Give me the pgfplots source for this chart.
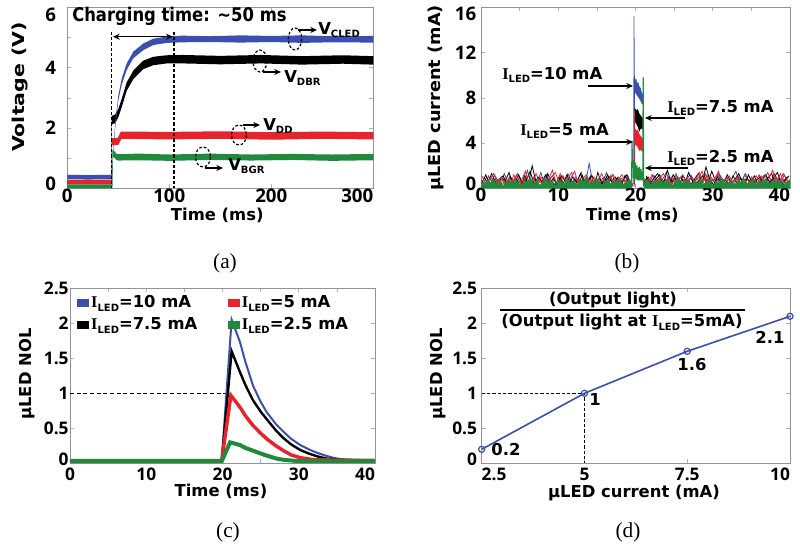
\documentclass[border=0pt]{standalone}
\usepackage{fontspec}
\setmainfont{DejaVu Sans}
\newfontfamily\serif{Liberation Serif}
\newfontfamily\osans{Open Sans}
\usepackage{graphicx}
\usepackage{pgfplots}
\pgfplotsset{compat=1.18}
\usetikzlibrary{arrows.meta}
\definecolor{cblue}{HTML}{3A4FB0}
\definecolor{cred}{HTML}{E8232B}
\definecolor{cgreen}{HTML}{1F8A3B}
\newcommand\fs{\fontsize{12.3}{14}\selectfont\bfseries}
\newcommand\ftt{\osans\fontsize{14}{15}\selectfont\bfseries}
\newcommand\ftb{\osans\fontsize{13}{15}\selectfont\bfseries}
\newcommand\sub[1]{\raisebox{-0.4ex}{\fontsize{7.5}{8}\selectfont\bfseries #1}}
\newcommand\ILED{{\serif\bfseries I}\sub{LED}}
\pgfplotsset{panel/.style={scale only axis, anchor=south west,
  axis line style={draw=gray!85}, tick style={draw=gray!60, line width=0.4pt},
  major tick length=3pt, label style={font=\fs},
  ylabel style={anchor=center}, xlabel style={anchor=center},
  /pgf/number format/assume math mode=true}}
\begin{document}
\begin{tikzpicture}
\useasboundingbox (0,0) rectangle (600pt,413.25pt);
% (a)
\begin{axis}[panel, at={(50.475pt,272.025pt)}, width=229.5pt, height=135.75pt,
  tick label style={font=\ftt}, xticklabel style={yshift=3pt}, yticklabel style={xshift=-5pt},
  xmin=0, xmax=300, ymin=0, ymax=6,
  xtick={0,100,200,300}, xticklabels={0,100,200,\makebox[0pt][r]{300}},
  ytick={0,1,2,3,4,5,6}, yticklabels={\raisebox{3pt}[0.7em][0pt]{0},,2,,4,,\raisebox{-6pt}[0.7em][0pt]{6}},
  xlabel={Time (ms)}, ylabel={\scalebox{1.25}[1]{Voltage (V)}},
  xlabel style={at={(axis description cs:0.49,-0.148)}},
  ylabel style={at={(axis description cs:-0.155,0.56)}}]
\addplot[fill=black, draw=none] coordinates {(0,0.25)(43.4,0.25)(43.5,2.40)(46.8,2.44)(50,2.63)(53.3,2.96)(58.2,3.51)(64.7,3.90)(74.5,4.23)(84.3,4.36)(97.5,4.41)(113,4.42)(150,4.39)(190,4.42)(230,4.38)(270,4.41)(300,4.38)
 (300,4.10)(270,4.13)(230,4.10)(190,4.14)(150,4.11)(113,4.14)(97.5,4.14)(84.3,4.08)(74.5,3.95)(64.7,3.62)(58.2,3.23)(53.3,2.68)(50,2.35)(46.8,2.16)(43.8,2.12)(43.7,0.15)(0,0.15)};
\addplot[fill=cblue, draw=none] coordinates {(0,0.45)(20,0.44)(43.4,0.45)(43.6,0.5)(45,1.3)(46.8,2.08)(50,3.07)(53.3,3.63)(58.2,4.14)(64.7,4.53)(74.5,4.80)(84.3,4.96)(97.5,5.03)(113,5.06)(140,5.04)(170,5.07)(200,5.05)(230,5.07)(260,5.04)(300,5.05)
 (300,4.83)(260,4.84)(230,4.82)(200,4.85)(170,4.83)(140,4.85)(113,4.84)(97.5,4.82)(84.3,4.75)(74.5,4.58)(64.7,4.31)(58.2,3.92)(53.3,3.43)(50,2.90)(46.8,1.94)(45,1.15)(44,0.38)(43.6,0.30)(20,0.29)(0,0.30)};
\addplot[fill=cred, draw=none] coordinates {(0,0.28)(43.4,0.28)(43.6,1.66)(49.5,1.67)(52.5,1.88)(100,1.87)(150,1.89)(200,1.86)(250,1.88)(300,1.86)
 (300,1.62)(250,1.64)(200,1.61)(150,1.64)(100,1.62)(53,1.64)(50,1.43)(43.8,1.43)(43.7,0.13)(0,0.13)};
\addplot[fill=cgreen, draw=none] coordinates {(0,0.13)(43.9,0.13)(44.2,1.27)(46,1.24)(48,1.15)(50,1.13)(70,1.15)(100,1.12)(140,1.15)(180,1.12)(220,1.14)(260,1.12)(300,1.14)
 (300,0.93)(260,0.91)(220,0.94)(180,0.92)(140,0.94)(100,0.91)(70,0.93)(50,0.92)(48,0.94)(46,1.02)(44.5,1.04)(44.3,0)(0,0)};
\end{axis}
% (b)
\begin{axis}[panel, at={(360.75pt,272.025pt)}, width=231.75pt, height=135.75pt,
  tick label style={font=\ftt}, xticklabel style={yshift=4pt},
  xmin=0, xmax=40, ymin=0, ymax=16,
  xtick={0,5,...,40}, xticklabels={0,,10,,20,,30,,\makebox[0pt][r]{40}},
  ytick={0,4,8,12,16}, yticklabels={\raisebox{3pt}[0.7em][0pt]{0},4,8,12,\raisebox{-5pt}[0.7em][0pt]{16}},
  xlabel={Time (ms)}, ylabel={\scalebox{1.08}[1]{µLED current (mA)}},
  xlabel style={at={(axis description cs:0.49,-0.15)}},
  ylabel style={at={(axis description cs:-0.145,0.5)}},
  every axis plot/.append style={line width=0.6pt}]
\addplot[cblue] coordinates {(0,0.8)(0.5,0.2)(1,1.1)(1.5,0.4)(2,0.9)(2.5,0.1)(3,1.3)(3.5,0.5)(4,0.7)(4.5,0.2)(5,1.0)(5.5,0.3)(6,1.6)(6.5,0.4)(7,0.9)(7.5,0.1)(8,0.6)(8.5,1.2)(9,0.3)(9.5,0.8)(10,0.2)(10.5,1.1)(11,0.5)(11.5,0.9)(12,0.1)(12.5,0.7)(13,1.4)(13.5,0.3)(14,2.2)(14.5,0.4)(15,0.8)(15.5,0.2)(16,1.0)(16.5,0.5)(17,1.2)(17.5,0.1)(18,0.7)(18.5,0.3)(19,0.9)(19.5,0.4)(19.78,0.4)(19.8,15.2)(19.86,9.0)(19.9,0.3)};
\addplot[cblue] coordinates {(21,0.3)(21.5,0.9)(22,0.3)(22.5,1.1)(23,0.5)(23.5,0.8)(24,1.4)(24.5,0.2)(25,0.7)(25.5,1.0)(26,0.3)(26.5,0.6)(27,1.2)(27.5,0.4)(28,0.9)(28.5,0.1)(29,1.3)(29.5,0.5)(30,0.8)(30.5,0.2)(31,1.1)(31.5,0.6)(32,0.3)(32.5,0.9)(33,1.5)(33.5,0.4)(34,0.7)(34.5,0.2)(35,1.0)(35.5,0.5)(36,1.2)(36.5,0.3)(37,0.8)(37.5,0.6)(38,1.3)(38.5,0.2)(39,0.9)(39.5,0.4)(40,0.7)};
\addplot[cblue] coordinates {(0.25,0.4)(0.75,1.0)(1.25,0.3)(1.75,1.2)(2.25,0.5)(2.75,0.8)(3.25,0.2)(3.75,1.1)(4.25,0.6)(4.75,1.3)(5.25,0.4)(5.75,0.9)(6.25,0.2)(6.75,1.0)(7.25,0.5)(7.75,1.4)(8.25,0.3)(8.75,0.7)(9.25,1.1)(9.75,0.4)(10.25,0.9)(10.75,0.2)(11.25,1.3)(11.75,0.5)(12.25,1.0)(12.75,0.3)(13.25,0.8)(13.75,0.6)(14.25,1.2)(14.75,0.2)(15.25,0.9)(15.75,0.5)(16.25,1.4)(16.75,0.3)(17.25,0.7)(17.75,1.0)(18.25,0.4)(18.75,1.1)(19.25,0.3)};
\addplot[cblue] coordinates {(21.25,0.8)(21.75,0.3)(22.25,1.2)(22.75,0.5)(23.25,0.9)(23.75,0.2)(24.25,1.0)(24.75,0.6)(25.25,1.3)(25.75,0.4)(26.25,0.8)(26.75,0.2)(27.25,1.1)(27.75,0.5)(28.25,0.7)(28.75,1.2)(29.25,0.3)(29.75,0.9)(30.25,0.5)(30.75,1.4)(31.25,0.2)(31.75,1.0)(32.25,0.6)(32.75,0.3)(33.25,1.1)(33.75,0.7)(34.25,1.3)(34.75,0.4)(35.25,0.8)(35.75,0.2)(36.25,0.9)(36.75,1.2)(37.25,0.4)(37.75,0.7)(38.25,1.0)(38.75,0.3)(39.25,1.2)(39.75,0.5)};
\addplot[fill=cblue, draw=none] coordinates {(19.84,9.8)(20.0,9.6)(20.1,9.7)(20.2,9.3)(20.35,9.4)(20.5,9.0)(20.65,8.9)(20.8,8.5)(20.95,8.3)(20.95,7.4)(20.8,7.5)(20.6,7.8)(20.4,8.0)(20.2,8.2)(20.0,8.4)(19.84,8.6)};
\addplot[black] coordinates {(0.125,0.5)(0.625,1.2)(1.125,0.3)(1.625,0.9)(2.125,0.2)(2.625,1.0)(3.125,0.6)(3.625,1.4)(4.125,0.3)(4.625,0.8)(5.125,0.1)(5.625,1.1)(6.125,0.4)(6.625,2.0)(7.125,0.5)(7.625,0.9)(8.125,0.2)(8.625,1.3)(9.125,0.6)(9.625,0.3)(10.125,1.0)(10.625,0.4)(11.125,1.2)(11.625,0.2)(12.125,0.8)(12.625,0.5)(13.125,1.1)(13.625,0.3)(14.125,0.9)(14.625,0.1)(15.125,1.4)(15.625,0.4)(16.125,0.7)(16.625,1.0)(17.125,0.3)(17.625,0.9)(18.125,0.2)(18.625,1.1)(19.125,0.5)(19.625,0.3)};
\addplot[black] coordinates {(21.125,0.6)(21.625,1.0)(22.125,0.3)(22.625,0.8)(23.125,1.2)(23.625,0.4)(24.125,1.6)(24.625,0.5)(25.125,0.9)(25.625,0.2)(26.125,1.1)(26.625,0.6)(27.125,0.3)(27.625,0.8)(28.125,1.3)(28.625,0.5)(29.125,1.9)(29.625,0.7)(30.125,0.3)(30.625,1.0)(31.125,0.4)(31.625,0.8)(32.125,0.2)(32.625,1.1)(33.125,0.5)(33.625,0.9)(34.125,0.3)(34.625,1.2)(35.125,0.4)(35.625,0.7)(36.125,1.0)(36.625,0.2)(37.125,0.9)(37.625,1.3)(38.125,0.4)(38.625,0.8)(39.125,0.3)(39.625,1.0)};
\addplot[black] coordinates {(0.375,1.0)(0.875,0.4)(1.375,1.3)(1.875,0.5)(2.375,0.8)(2.875,1.1)(3.375,0.3)(3.875,0.9)(4.375,0.5)(4.875,1.2)(5.375,0.4)(5.875,0.8)(6.375,1.5)(6.875,0.3)(7.375,1.0)(7.875,0.6)(8.375,1.2)(8.875,0.4)(9.375,0.9)(9.875,0.2)(10.375,1.1)(10.875,0.7)(11.375,0.3)(11.875,1.0)(12.375,0.5)(12.875,1.3)(13.375,0.4)(13.875,0.8)(14.375,1.1)(14.875,0.5)(15.375,0.9)(15.875,0.3)(16.375,1.2)(16.875,0.6)(17.375,1.0)(17.875,0.4)(18.375,0.8)(18.875,1.2)(19.375,0.5)};
\addplot[black] coordinates {(21.375,1.1)(21.875,0.4)(22.375,0.9)(22.875,1.3)(23.375,0.5)(23.875,0.8)(24.375,0.3)(24.875,1.2)(25.375,0.6)(25.875,1.0)(26.375,0.4)(26.875,1.4)(27.375,0.7)(27.875,0.3)(28.375,0.9)(28.875,1.1)(29.375,0.5)(29.875,1.5)(30.375,0.6)(30.875,0.9)(31.375,0.3)(31.875,1.2)(32.375,0.5)(32.875,0.8)(33.375,1.3)(33.875,0.4)(34.375,0.9)(34.875,0.6)(35.375,1.1)(35.875,0.3)(36.375,0.8)(36.875,1.2)(37.375,0.5)(37.875,0.9)(38.375,1.4)(38.875,0.4)(39.375,0.8)(39.875,1.1)};
\addplot[fill=black, draw=none] coordinates {(19.9,7.1)(20.1,6.9)(20.3,7.0)(20.5,6.6)(20.7,6.4)(20.95,6.2)(20.95,5.2)(20.7,5.3)(20.5,5.0)(20.3,5.4)(20.1,5.7)(19.9,5.9)};
\addplot[cred] coordinates {(0.25,0.6)(0.75,0.2)(1.25,1.0)(1.75,0.4)(2.25,0.8)(2.75,0.3)(3.25,0.9)(3.75,0.1)(4.25,1.2)(4.75,0.4)(5.25,0.7)(5.75,1.5)(6.25,0.3)(6.75,0.9)(7.25,0.2)(7.75,1.0)(8.25,0.5)(8.75,0.8)(9.25,1.6)(9.75,0.4)(10.25,1.3)(10.75,0.2)(11.25,0.9)(11.75,1.4)(12.25,0.3)(12.75,0.8)(13.25,0.1)(13.75,1.0)(14.25,0.5)(14.75,0.7)(15.25,0.2)(15.75,0.9)(16.25,0.4)(16.75,1.1)(17.25,0.3)(17.75,0.8)(18.25,1.2)(18.75,0.4)(19.25,0.7)(19.6,0.2)(19.83,0.2)(19.86,6.8)(19.9,5.0)};
\addplot[cred] coordinates {(21.25,0.5)(21.75,0.9)(22.25,0.2)(22.75,0.7)(23.25,1.0)(23.75,0.3)(24.25,0.8)(24.75,0.4)(25.25,1.1)(25.75,0.2)(26.25,0.6)(26.75,0.9)(27.25,0.3)(27.75,0.7)(28.25,1.4)(28.75,0.5)(29.25,1.2)(29.75,0.3)(30.25,0.8)(30.75,1.5)(31.25,0.4)(31.75,0.9)(32.25,0.2)(32.75,0.7)(33.25,1.0)(33.75,0.3)(34.25,0.6)(34.75,0.2)(35.25,0.9)(35.75,0.4)(36.25,1.1)(36.75,0.5)(37.25,0.8)(37.75,1.6)(38.25,0.4)(38.75,1.3)(39.25,0.5)(39.75,0.9)};
\addplot[cred] coordinates {(0.125,1.1)(0.625,0.4)(1.125,0.8)(1.625,1.3)(2.125,0.5)(2.625,1.0)(3.125,0.3)(3.625,0.9)(4.125,0.6)(4.625,1.2)(5.125,0.4)(5.625,0.8)(6.125,1.1)(6.625,0.3)(7.125,1.3)(7.625,0.5)(8.125,0.9)(8.625,0.4)(9.125,1.0)(9.625,1.4)(10.125,0.5)(10.625,1.1)(11.125,0.4)(11.625,0.9)(12.125,1.5)(12.625,0.3)(13.125,0.8)(13.625,1.2)(14.125,0.4)(14.625,1.0)(15.125,0.6)(15.625,1.3)(16.125,0.5)(16.625,0.8)(17.125,1.2)(17.625,0.4)(18.125,0.9)(18.625,0.6)(19.125,1.1)};
\addplot[cred] coordinates {(21.125,0.9)(21.625,0.4)(22.125,1.2)(22.625,0.6)(23.125,0.9)(23.625,1.3)(24.125,0.4)(24.625,1.0)(25.125,0.5)(25.625,0.8)(26.125,1.2)(26.625,0.4)(27.125,1.0)(27.625,0.6)(28.125,0.9)(28.625,1.5)(29.125,0.5)(29.625,1.1)(30.125,0.7)(30.625,1.3)(31.125,0.4)(31.625,0.8)(32.125,1.1)(32.625,0.5)(33.125,0.9)(33.625,0.3)(34.125,1.2)(34.625,0.6)(35.125,0.8)(35.625,1.1)(36.125,0.4)(36.625,0.9)(37.125,1.4)(37.625,0.5)(38.125,1.0)(38.625,0.6)(39.125,1.3)(39.625,0.7)};
\addplot[fill=cred, draw=none] coordinates {(19.88,5.4)(20.1,5.1)(20.3,5.2)(20.5,4.8)(20.7,4.6)(20.95,4.4)(20.95,3.2)(20.7,3.4)(20.5,3.3)(20.3,3.6)(20.1,3.8)(19.88,3.9)};
\addplot[fill=cgreen, draw=none] coordinates {(0,0)(0,0.6)(0.4,0.3)(0.8,0.8)(1.2,0.5)(1.6,0.9)(2.0,0.4)(2.4,0.7)(2.8,0.2)(3.2,0.6)(3.6,0.8)(4.0,0.4)(4.4,0.9)(4.8,0.5)(5.2,0.3)(5.6,0.7)(6.0,0.6)(6.4,1.0)(6.8,0.4)(7.2,0.8)(7.6,0.3)(8.0,0.6)(8.4,0.9)(8.8,0.5)(9.2,0.7)(9.6,0.2)(10.0,0.8)(10.4,0.6)(10.8,0.4)(11.2,0.9)(11.6,0.5)(12.0,0.7)(12.4,0.3)(12.8,0.8)(13.2,0.6)(13.6,1.1)(14.0,0.4)(14.4,0.7)(14.8,0.5)(15.2,0.9)(15.6,0.3)(16.0,0.6)(16.4,0.8)(16.8,0.4)(17.2,0.7)(17.6,0.5)(18.0,0.9)(18.4,0.3)(18.8,0.6)(19.2,0.8)(19.5,0.5)(19.5,0)};
\addplot[fill=cgreen, draw=none] coordinates {(21.05,0)(21.05,0.4)(21.2,0.5)(21.6,0.8)(22.0,0.3)(22.4,0.7)(22.8,0.6)(23.2,0.9)(23.6,0.4)(24.0,0.8)(24.4,0.5)(24.8,0.3)(25.2,0.7)(25.6,1.0)(26.0,0.4)(26.4,0.6)(26.8,0.8)(27.2,0.3)(27.6,0.7)(28.0,0.5)(28.4,0.9)(28.8,0.4)(29.2,0.6)(29.6,0.8)(30.0,0.2)(30.4,0.7)(30.8,0.5)(31.2,0.9)(31.6,0.6)(32.0,0.4)(32.4,0.8)(32.8,0.3)(33.2,0.7)(33.6,0.5)(34.0,1.0)(34.4,0.4)(34.8,0.6)(35.2,0.8)(35.6,0.3)(36.0,0.7)(36.4,0.5)(36.8,0.9)(37.2,0.4)(37.6,0.6)(38.0,0.8)(38.4,0.5)(38.8,0.7)(39.2,0.3)(39.6,0.6)(40,0.8)(40,0)};
\addplot[cgreen, line width=0.9pt] coordinates {(19.5,0.1)(19.55,4.2)(19.6,2.0)(19.7,2.5)(19.75,0.9)(19.8,2.4)(19.85,1.0)(19.9,2.2)(19.95,0.8)(20.0,2.3)(20.05,0.9)(20.1,1.9)(20.15,0.8)(20.2,2.0)(20.25,0.7)(20.3,1.8)(20.35,0.9)(20.4,1.7)(20.45,0.7)(20.5,1.9)(20.55,0.8)(20.6,1.6)(20.65,0.7)(20.7,1.7)(20.75,0.8)(20.8,1.5)(20.85,0.7)(20.9,1.4)(20.95,0.8)(21.0,9.8)(21.05,0.2)};
\end{axis}
% (c)
\begin{axis}[panel, at={(52.5pt,65.775pt)}, width=228.75pt, height=131.25pt,
  tick label style={font=\ftb}, yticklabel style={xshift=2.5pt},
  xmin=0, xmax=40, ymin=0, ymax=2.5,
  xtick={0,5,...,40}, xticklabels={0,,10,,20,,30,,\makebox[0pt][r]{40}},
  ytick={0,0.5,1,1.5,2,2.5}, yticklabels={\raisebox{3pt}[0.7em][0pt]{0},0.5,1,1.5,2,2.5},
  xlabel={Time (ms)}, ylabel={µLED NOL},
  xlabel style={at={(axis description cs:0.495,-0.16)}},
  ylabel style={at={(axis description cs:-0.142,0.51)}},
  legend columns=2, legend cell align=left,
  legend style={at={(rel axis cs:0.01,0.99)}, anchor=north west, draw=none, fill=none, font=\fs,
    /tikz/every even column/.append style={column sep=21pt}, row sep=2pt}]
\addplot[black, dashed, dash pattern=on 3pt off 2pt, line width=0.9pt, forget plot] coordinates {(0,1)(21.1,1)};
\addplot[cblue, line width=1.5pt, forget plot] coordinates {(0,0.04)(19.9,0.04)(21.2,2.05)(22.3,1.73)(23,1.45)(24,1.11)(25,0.88)(25.8,0.73)(27,0.56)(28,0.45)(29,0.35)(30.2,0.26)(31.3,0.2)(32.4,0.15)(33.5,0.11)(34.5,0.08)(36,0.05)(38,0.04)(40,0.04)};
\addplot[black, line width=1.8pt, forget plot] coordinates {(0,0.04)(19.9,0.04)(21.2,1.6)(22.3,1.3)(23,1.12)(24,0.9)(25,0.74)(25.8,0.63)(27,0.47)(28,0.36)(29,0.27)(30.2,0.19)(31.3,0.14)(32.4,0.1)(33.5,0.07)(35,0.05)(40,0.04)};
\addplot[cred, line width=2.6pt, forget plot] coordinates {(0,0.04)(19.9,0.04)(21.1,0.97)(22.3,0.8)(23,0.68)(24,0.54)(25,0.43)(25.8,0.35)(27,0.25)(28,0.18)(29,0.12)(30.2,0.08)(32,0.05)(40,0.04)};
\addplot[cgreen, line width=3pt, forget plot] coordinates {(0,0.03)(19.9,0.03)(21,0.3)(22.3,0.26)(23,0.22)(24,0.18)(25,0.14)(25.8,0.11)(27,0.07)(28,0.05)(30,0.03)(40,0.03)};
\addlegendimage{legend image code/.code={\fill[cblue] (0pt,-2.5pt) rectangle (8pt,2.5pt);}}
\addlegendentry{\ILED=10 mA}
\addlegendimage{legend image code/.code={\fill[cred] (0pt,-2.5pt) rectangle (8pt,2.5pt);}}
\addlegendentry{\ILED=5 mA}
\addlegendimage{legend image code/.code={\fill[black] (0pt,-2.5pt) rectangle (8pt,2.5pt);}}
\addlegendentry{\ILED=7.5 mA}
\addlegendimage{legend image code/.code={\fill[cgreen] (0pt,-2.5pt) rectangle (8pt,2.5pt);}}
\addlegendentry{\ILED=2.5 mA}
\end{axis}
% (d)
\begin{axis}[panel, at={(361.275pt,65.775pt)}, width=231.225pt, height=131.25pt,
  tick label style={font=\ftb},
  xmin=2.5, xmax=10, ymin=0, ymax=2.5, clip=false,
  xtick={2.5,5,7.5,10}, xticklabels={\makebox[0pt][l]{2.5},5,7.5,\makebox[0pt][r]{10}},
  ytick={0,0.5,1,1.5,2,2.5}, yticklabels={\raisebox{3pt}[0.7em][0pt]{0},0.5,1,1.5,2,2.5},
  xlabel={µLED current (mA)}, ylabel={µLED NOL},
  xlabel style={at={(axis description cs:0.494,-0.172)}},
  ylabel style={at={(axis description cs:-0.142,0.51)}}]
\addplot[black, dashed, dash pattern=on 2.5pt off 1.5pt, line width=0.8pt] coordinates {(2.5,1)(5,1)(5,0)};
\addplot[cblue, line width=1.2pt, mark=o, mark size=2.3pt, mark options={fill=white, line width=0.9pt}] coordinates {(2.5,0.2)(5,1)(7.5,1.6)(10,2.1)};
\end{axis}
% annotations in pixel coordinates
\begin{scope}[x=0.75pt,y=-0.75pt,shift={(0pt,413.25pt)}]
\node[anchor=west,font=\fs,inner sep=0pt] at (72,16.5) {\scalebox{1}[1.15]{Charging time: \char"007E 50 ms}};
\draw[dash pattern=on 2.5pt off 1.5pt, line width=1pt] (111.7,31.7) -- (111.7,188.3);
\draw[dash pattern=on 2.5pt off 1.5pt, line width=1pt] (174,31.7) -- (174,188.3);
\draw[{Stealth[length=5pt,width=4.5pt]}-{Stealth[length=5pt,width=4.5pt]}, line width=1.1pt] (113,36.7) -- (172.7,36.7);
\tikzset{ann/.style={-{Stealth[length=5pt,width=4.5pt]}, line width=1pt}, ell/.style={dash pattern=on 2pt off 1.5pt, line width=0.9pt}}
\draw[ell] (295,39) ellipse (6.7 and 11);
\draw[ann] (298,30) -- (317,30);
\node[anchor=west,font=\fs,inner sep=0pt] at (318,30) {V\sub{CLED}};
\draw[ell] (260,61) ellipse (7 and 11);
\draw[ann] (263,72) -- (281,72);
\node[anchor=west,font=\fs,inner sep=0pt] at (284,78) {V\sub{DBR}};
\draw[ell] (239,135) ellipse (7.5 and 10);
\draw[ann] (243,125) -- (260,125);
\node[anchor=west,font=\fs,inner sep=0pt] at (263,126) {V\sub{DD}};
\draw[ell] (203,157) ellipse (7.5 and 10);
\draw[ann] (205,168) -- (223,168);
\node[anchor=west,font=\fs,inner sep=0pt] at (228,166) {V\sub{BGR}};
% (b)
\node[anchor=west,font=\fs,inner sep=0pt] at (502,75) {\ILED=10 mA};
\draw[ann] (588,86) -- (633,86);
\node[anchor=west,font=\fs,inner sep=0pt] at (667,108) {\ILED=7.5 mA};
\draw[ann] (685,118) -- (645,118);
\node[anchor=west,font=\fs,inner sep=0pt] at (520,131) {\ILED=5 mA};
\draw[ann] (588,142) -- (633,142);
\node[anchor=west,font=\fs,inner sep=0pt] at (667,158) {\ILED=2.5 mA};
\draw[ann] (688,168) -- (645,168);
% (d)
\node[font=\fs] at (613,300) {(Output light)};
\draw[line width=1pt] (500,310) -- (745,310);
\node[font=\fs] at (622,322) {(Output light at \ILED=5mA)};
\node[font=\fs] at (506,450) {0.2};
\node[font=\fs] at (595,400) {1};
\node[font=\fs] at (692,365) {1.6};
\node[font=\fs] at (770,337) {2.1};
% captions
\node[font=\serif\fontsize{16}{16}\selectfont] at (225,263) {(a)};
\node[font=\serif\fontsize{16}{16}\selectfont] at (627,263) {(b)};
\node[font=\serif\fontsize{16}{16}\selectfont] at (228,532) {(c)};
\node[font=\serif\fontsize{16}{16}\selectfont] at (628,532) {(d)};
\end{scope}
\end{tikzpicture}
\end{document}
